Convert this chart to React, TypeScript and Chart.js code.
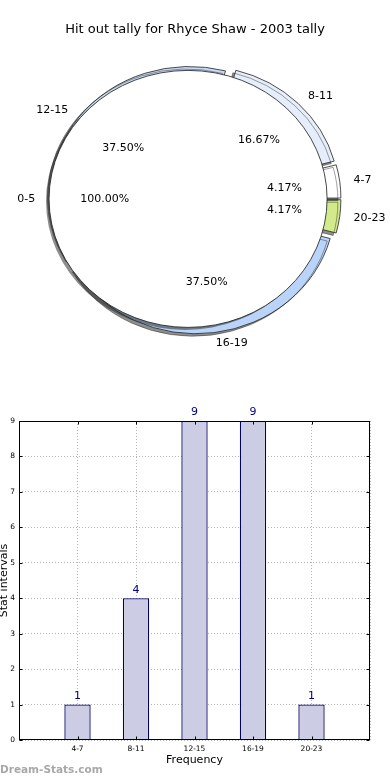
import React, { useEffect, useRef } from 'react';
import { Chart, registerables } from 'chart.js';

Chart.register(...registerables);

// ---------- data ----------
const CHART_TITLE = 'Hit out tally for Rhyce Shaw - 2003 tally';
const categories = ['4-7', '8-11', '12-15', '16-19', '20-23'];
const frequencies = [1, 4, 9, 9, 1];
const sliceColors = ['#ffffff', '#e7eefb', '#c9dbf4', '#b9d4f8', '#d3ea8c'];
const overallLabels = ['0-5'];
const overallValues = [1];
const yMax = 9;
const xAxisTitle = 'Frequency';
const yAxisTitle = 'Stat intervals';
const WATERMARK = 'Dream-Stats.com';

// ---------- style ----------
const FONT = "'DejaVu Sans', sans-serif";
const PIE_RADIUS = 128.5;
const X_STRETCH = 1.082;
const EXPLODE = 6.4;

// pie drawn counter-clockwise from east in the original: feed Chart.js (clockwise) reversed
const pieLabels = [...categories].reverse();
const pieValues = [...frequencies].reverse();
const pieColors = [...sliceColors].reverse();

const explodePlugin = {
  id: 'explode',
  afterDatasetsUpdate(chart: any) {
    chart.data.datasets.forEach((_d: any, i: number) => {
      chart.getDatasetMeta(i).data.forEach((el: any) => {
        const mid = (el.startAngle + el.endAngle) / 2;
        el.x += Math.cos(mid) * EXPLODE;
        el.y += Math.sin(mid) * EXPLODE;
      });
    });
  },
};

const ellipsePlugin = {
  id: 'ellipse',
  beforeDatasetsDraw(chart: any) {
    const ctx = chart.ctx;
    const cx = (chart.chartArea.left + chart.chartArea.right) / 2;
    ctx.save();
    ctx.translate(cx, 0);
    ctx.scale(X_STRETCH, 1);
    ctx.translate(-cx, 0);
    ctx.shadowColor = 'rgba(30,30,30,0.5)';
    ctx.shadowOffsetX = -3;
    ctx.shadowOffsetY = 2.5;
    ctx.shadowBlur = 0;
  },
  afterDatasetsDraw(chart: any) {
    chart.ctx.restore();
  },
};

const diskOutlinePlugin = {
  id: 'diskOutline',
  afterDatasetsDraw(chart: any) {
    const ctx = chart.ctx;
    const cx = (chart.chartArea.left + chart.chartArea.right) / 2;
    ctx.save();
    ctx.translate(cx, 0);
    ctx.scale(X_STRETCH, 1);
    ctx.translate(-cx, 0);
    ctx.strokeStyle = '#222';
    ctx.lineWidth = 0.8;
    chart.getDatasetMeta(0).data.forEach((el: any) => {
      ctx.beginPath();
      ctx.arc(el.x, el.y, el.outerRadius, 0, Math.PI * 2);
      ctx.stroke();
    });
    ctx.restore();
  },
};

function drawPieText(ctx: CanvasRenderingContext2D, cx: number, arcs: any[], labels: string[], values: number[]) {
  const total = values.reduce((a, b) => a + b, 0);
  arcs.forEach((el: any, i: number) => {
    const mid = (el.startAngle + el.endAngle) / 2;
    const c = Math.cos(mid);
    const s = Math.sin(mid);
    const R = el.outerRadius;
    const lx = cx + (el.x + c * 1.1 * R - cx) * X_STRETCH;
    const ly = el.y + s * 1.08 * R;
    ctx.textAlign = c >= 0 ? 'left' : 'right';
    ctx.fillText(labels[i], lx, ly);
    const px = cx + (el.x + c * 0.6 * R - cx) * X_STRETCH;
    const py = el.y + s * 0.6 * R;
    ctx.textAlign = 'center';
    ctx.fillText(((values[i] / total) * 100).toFixed(2) + '%', px, py);
  });
}

const makeLabelPlugin = (getSlices: () => any) => ({
  id: 'pieText',
  afterDraw(chart: any) {
    const ctx = chart.ctx;
    const cx = (chart.chartArea.left + chart.chartArea.right) / 2;
    ctx.save();
    ctx.fillStyle = '#000';
    ctx.font = `11px ${FONT}`;
    ctx.textBaseline = 'middle';
    const sc = getSlices();
    if (sc) drawPieText(ctx, cx, sc.getDatasetMeta(0).data, pieLabels, pieValues);
    drawPieText(ctx, cx, chart.getDatasetMeta(0).data, overallLabels, overallValues);
    ctx.restore();
  },
});

const barValuePlugin = {
  id: 'barValues',
  afterDatasetsDraw(chart: any) {
    const ctx = chart.ctx;
    const ds = chart.data.datasets[0];
    ctx.save();
    ctx.fillStyle = '#000080';
    ctx.font = `11px ${FONT}`;
    ctx.textAlign = 'center';
    ctx.textBaseline = 'bottom';
    chart.getDatasetMeta(0).data.forEach((el: any, i: number) => {
      const v = ds.data[i];
      if (v === null || v === undefined) return;
      ctx.fillText(String(v), el.x, el.y - 3);
    });
    ctx.restore();
  },
};

const framePlugin = {
  id: 'frame',
  afterDraw(chart: any) {
    const ctx = chart.ctx;
    const { left, right, top, bottom } = chart.chartArea;
    const xs = chart.scales.x;
    const ys = chart.scales.y;
    ctx.save();
    ctx.strokeStyle = '#000';
    ctx.lineWidth = 1;
    const L = Math.round(left) + 0.5;
    const Rr = Math.round(right) - 0.5;
    const T = Math.round(top) + 0.5;
    const B = Math.round(bottom) - 0.5;
    ctx.beginPath();
    ys.ticks.forEach((t: any) => {
      const y = Math.round(ys.getPixelForValue(t.value)) + 0.5;
      ctx.moveTo(L, y); ctx.lineTo(L + 3, y);
      ctx.moveTo(Rr, y); ctx.lineTo(Rr - 3, y);
    });
    chart.data.labels.forEach((lab: string, i: number) => {
      if (!lab) return;
      const x = Math.round(xs.getPixelForValue(i)) + 0.5;
      ctx.moveTo(x, B); ctx.lineTo(x, B - 3);
      ctx.moveTo(x, T); ctx.lineTo(x, T + 3);
    });
    ctx.stroke();
    ctx.strokeRect(L, T, Rr - L, B - T);
    ctx.restore();
  },
};

export default function App() {
  const sliceRef = useRef<HTMLCanvasElement>(null);
  const diskRef = useRef<HTMLCanvasElement>(null);
  const barRef = useRef<HTMLCanvasElement>(null);

  useEffect(() => {
    Chart.defaults.font.family = FONT;
    const titleSize = 13;
    const titleBox = titleSize * 1.2 + 22.2;

    const sliceChart: any = new Chart(sliceRef.current as HTMLCanvasElement, {
      type: 'pie',
      data: {
        labels: pieLabels,
        datasets: [
          {
            data: pieValues,
            backgroundColor: pieColors,
            borderColor: '#2a2a2a',
            borderWidth: 0.8,
            clip: false,
          } as any,
        ],
      },
      options: {
        responsive: false,
        animation: false,
        radius: PIE_RADIUS,
        rotation: 90,
        layout: { padding: 0 },
        plugins: {
          legend: { display: false },
          tooltip: { enabled: false },
          title: {
            display: true,
            text: CHART_TITLE,
            color: '#000',
            font: { size: titleSize, family: FONT, weight: 'normal' },
            padding: { top: 22.2, bottom: 0 },
          },
        },
      } as any,
      plugins: [explodePlugin, ellipsePlugin],
    });

    const diskChart = new Chart(diskRef.current as HTMLCanvasElement, {
      type: 'pie',
      data: {
        labels: overallLabels,
        datasets: [
          {
            data: overallValues,
            backgroundColor: '#ffffff',
            borderWidth: 0,
            clip: false,
          } as any,
        ],
      },
      options: {
        responsive: false,
        animation: false,
        radius: PIE_RADIUS,
        rotation: 90,
        layout: { padding: { top: titleBox, left: 0, right: 0, bottom: 0 } },
        plugins: { legend: { display: false }, tooltip: { enabled: false }, title: { display: false } },
      } as any,
      plugins: [explodePlugin, ellipsePlugin, diskOutlinePlugin, makeLabelPlugin(() => sliceChart)],
    });

    const paddedLabels = ['', ...categories, ''];
    const paddedValues = [null, ...frequencies, null];
    const gridCommon = { color: '#b4b4b4', lineWidth: 1, drawTicks: false, offset: false };

    const barChart = new Chart(barRef.current as HTMLCanvasElement, {
      type: 'bar',
      data: {
        labels: paddedLabels,
        datasets: [
          {
            data: paddedValues,
            backgroundColor: 'rgb(204,204,228)',
            borderColor: '#00006a',
            borderWidth: 1.3,
            categoryPercentage: 1,
            barPercentage: 0.45,
          } as any,
        ],
      },
      options: {
        responsive: false,
        animation: false,
        layout: { padding: { top: 41, right: 20, left: 0, bottom: 0 } },
        plugins: { legend: { display: false }, tooltip: { enabled: false } },
        scales: {
          x: {
            offset: false,
            grid: gridCommon,
            border: { display: false, dash: [1, 2] },
            ticks: { color: '#000', font: { size: 7.5, family: FONT }, padding: 5, autoSkip: false, maxRotation: 0 },
            title: { display: true, text: xAxisTitle, color: '#000', font: { size: 11, family: FONT }, padding: { top: 0, bottom: 13 } },
            afterFit: (s: any) => { s.height = 40; },
          },
          y: {
            min: 0,
            max: yMax,
            grid: gridCommon,
            border: { display: false, dash: [1, 2] },
            ticks: { stepSize: 1, color: '#000', font: { size: 7.5, family: FONT }, padding: 4 },
            title: { display: true, text: yAxisTitle, color: '#000', font: { size: 11, family: FONT }, padding: { top: -2, bottom: 0 } },
            afterFit: (s: any) => { s.width = 19; },
          },
        },
      } as any,
      plugins: [barValuePlugin, framePlugin],
    });

    return () => {
      diskChart.destroy();
      sliceChart.destroy();
      barChart.destroy();
    };
  }, []);

  return (
    <div style={{ position: 'absolute', left: 0, top: 0, width: 390, height: 780, background: '#fff', overflow: 'hidden' }}>
      <canvas ref={sliceRef} width={390} height={360} style={{ position: 'absolute', left: 0, top: 0 }} />
      <canvas ref={diskRef} width={390} height={360} style={{ position: 'absolute', left: 0, top: 0 }} />
      <canvas ref={barRef} width={390} height={400} style={{ position: 'absolute', left: 0, top: 380 }} />
      <div
        style={{
          position: 'absolute',
          left: 0,
          top: 762,
          fontFamily: FONT,
          fontWeight: 'bold',
          fontSize: 10.5,
          color: '#a8a8a8',
          lineHeight: '14px',
        }}
      >
        {WATERMARK}
      </div>
    </div>
  );
}
